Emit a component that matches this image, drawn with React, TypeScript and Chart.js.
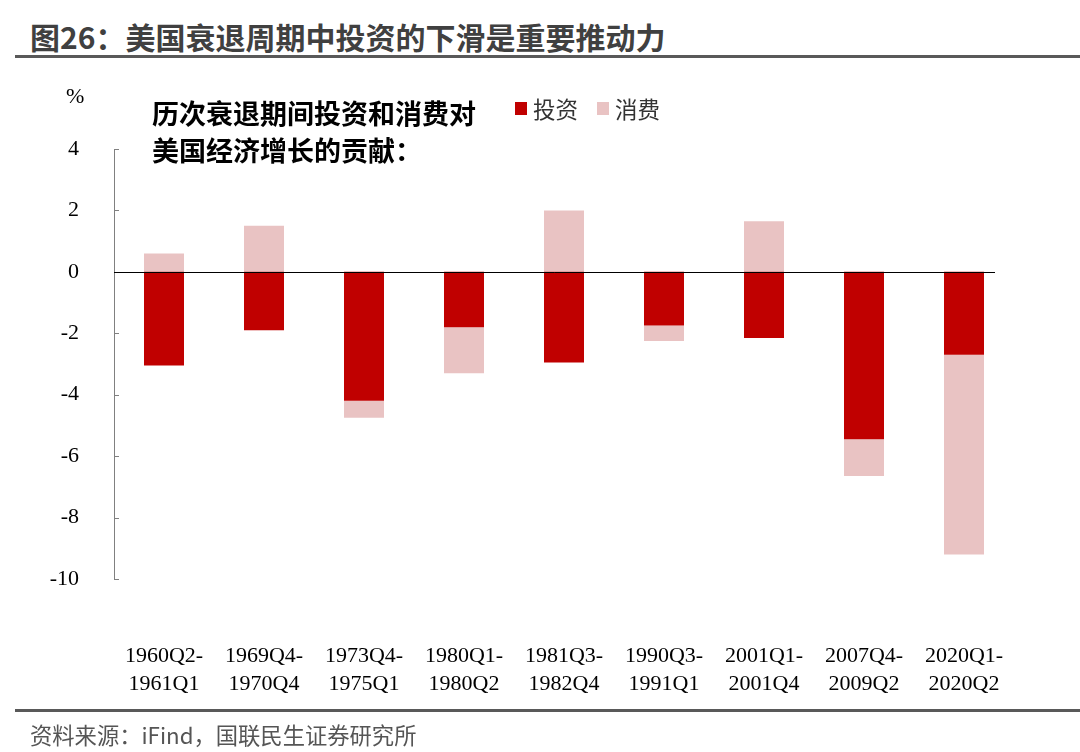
import React, { useEffect, useRef } from "react";
import { Chart, registerables } from "chart.js";

Chart.register(...registerables);

const categories: string[][] = [
  ["1960Q2-", "1961Q1"],
  ["1969Q4-", "1970Q4"],
  ["1973Q4-", "1975Q1"],
  ["1980Q1-", "1980Q2"],
  ["1981Q3-", "1982Q4"],
  ["1990Q3-", "1991Q1"],
  ["2001Q1-", "2001Q4"],
  ["2007Q4-", "2009Q2"],
  ["2020Q1-", "2020Q2"],
];

const investment: number[] = [-3.05, -1.9, -4.2, -1.8, -2.95, -1.75, -2.15, -5.45, -2.7];
const consumption: number[] = [0.6, 1.5, -0.55, -1.5, 2.0, -0.5, 1.65, -1.2, -6.5];

const seriesNames: string[] = ["投资", "消费"];
const yTicks: number[] = [4, 2, 0, -2, -4, -6, -8, -10];

const RED = "#C00000";
const PINK = "#E9C3C3";
const ZERO_LINE_TRIM = 19;

const axisPlugin = {
  id: "customAxis",
  afterDatasetsDraw(chart: any) {
    const { ctx, chartArea, scales } = chart;
    const y = scales.y;
    ctx.save();
    ctx.strokeStyle = "#808080";
    ctx.lineWidth = 1;
    ctx.beginPath();
    ctx.moveTo(chartArea.left + 0.5, chartArea.top);
    ctx.lineTo(chartArea.left + 0.5, chartArea.bottom);
    ctx.stroke();
    y.ticks.forEach((t: any) => {
      const py = Math.round(y.getPixelForValue(t.value)) + 0.5;
      ctx.beginPath();
      ctx.moveTo(chartArea.left, py);
      ctx.lineTo(chartArea.left + 5, py);
      ctx.stroke();
    });
    const zy = Math.round(y.getPixelForValue(0)) + 0.5;
    ctx.strokeStyle = "#000000";
    ctx.beginPath();
    ctx.moveTo(chartArea.left, zy);
    ctx.lineTo(chartArea.right - ZERO_LINE_TRIM, zy);
    ctx.stroke();
    ctx.restore();
  },
};

export default function App() {
  const canvasRef = useRef<HTMLCanvasElement | null>(null);

  useEffect(() => {
    if (!canvasRef.current) return;
    const chart = new Chart(canvasRef.current, {
      type: "bar",
      data: {
        labels: categories,
        datasets: [
          {
            label: seriesNames[0],
            data: investment,
            backgroundColor: RED,
            borderWidth: 0,
            categoryPercentage: 1,
            barPercentage: 0.4,
          },
          {
            label: seriesNames[1],
            data: consumption,
            backgroundColor: PINK,
            borderWidth: 0,
            categoryPercentage: 1,
            barPercentage: 0.4,
          },
        ],
      },
      options: {
        animation: false,
        responsive: true,
        maintainAspectRatio: false,
        layout: { padding: { left: 0, right: 66, top: 149, bottom: 0 } },
        plugins: {
          legend: { display: false },
          tooltip: { enabled: false },
        },
        scales: {
          x: {
            stacked: true,
            grid: { display: false },
            border: { display: false },
            ticks: {
              color: "#000000",
              padding: 55,
              maxRotation: 0,
              autoSkip: false,
              font: { family: "'Liberation Serif', 'Times New Roman', serif", size: 22, lineHeight: 1.27 },
            },
            afterFit: (scale: any) => {
              scale.height = 173;
            },
          },
          y: {
            stacked: true,
            min: -10,
            max: 4,
            grid: { display: false },
            border: { display: false },
            afterBuildTicks: (scale: any) => {
              scale.ticks = yTicks.map((v) => ({ value: v }));
            },
            ticks: {
              color: "#000000",
              padding: 27,
              font: { family: "'Liberation Serif', 'Times New Roman', serif", size: 22 },
            },
            afterFit: (scale: any) => {
              scale.width = 114;
            },
          },
        },
      },
      plugins: [axisPlugin],
    });
    return () => chart.destroy();
  }, []);

  const cjk = "'Noto Sans CJK SC', 'Noto Sans', sans-serif";

  return (
    <div
      style={{
        position: "absolute",
        left: 0,
        top: 0,
        width: 1080,
        height: 752,
        background: "#ffffff",
        overflow: "hidden",
      }}
    >
      <div
        style={{
          position: "absolute",
          left: 30,
          top: 16,
          fontFamily: cjk,
          fontWeight: 700,
          fontSize: 30,
          lineHeight: "40px",
          color: "#404040",
          whiteSpace: "nowrap",
        }}
      >
        图26：美国衰退周期中投资的下滑是重要推动力
      </div>
      <div style={{ position: "absolute", left: 15, top: 55, width: 1065, height: 3, background: "#595959" }} />

      <div style={{ position: "absolute", left: 0, top: 0, width: 1080, height: 752 }}>
        <canvas ref={canvasRef} />
      </div>

      <div
        style={{
          position: "absolute",
          left: 66,
          top: 83,
          fontFamily: "'Liberation Serif', serif",
          fontSize: 22,
          color: "#000",
        }}
      >
        %
      </div>

      <div
        style={{
          position: "absolute",
          left: 152,
          top: 94,
          fontFamily: cjk,
          fontWeight: 700,
          fontSize: 27,
          lineHeight: "37px",
          color: "#000",
          whiteSpace: "nowrap",
        }}
      >
        历次衰退期间投资和消费对
        <br />
        美国经济增长的贡献：
      </div>

      <div
        style={{
          position: "absolute",
          left: 515,
          top: 93,
          display: "flex",
          alignItems: "center",
          fontFamily: cjk,
          fontSize: 22.5,
          lineHeight: "30px",
          color: "#333",
          whiteSpace: "nowrap",
        }}
      >
        <span style={{ display: "inline-block", width: 12, height: 13, background: RED, marginRight: 6 }} />
        <span style={{ marginRight: 19 }}>{seriesNames[0]}</span>
        <span style={{ display: "inline-block", width: 12, height: 13, background: PINK, marginRight: 6 }} />
        <span>{seriesNames[1]}</span>
      </div>

      <div style={{ position: "absolute", left: 15, top: 709, width: 1065, height: 3, background: "#595959" }} />
      <div
        style={{
          position: "absolute",
          left: 30,
          top: 719,
          fontFamily: cjk,
          fontSize: 22.3,
          lineHeight: "30px",
          color: "#555",
          whiteSpace: "nowrap",
        }}
      >
        资料来源：iFind，国联民生证券研究所
      </div>
    </div>
  );
}
